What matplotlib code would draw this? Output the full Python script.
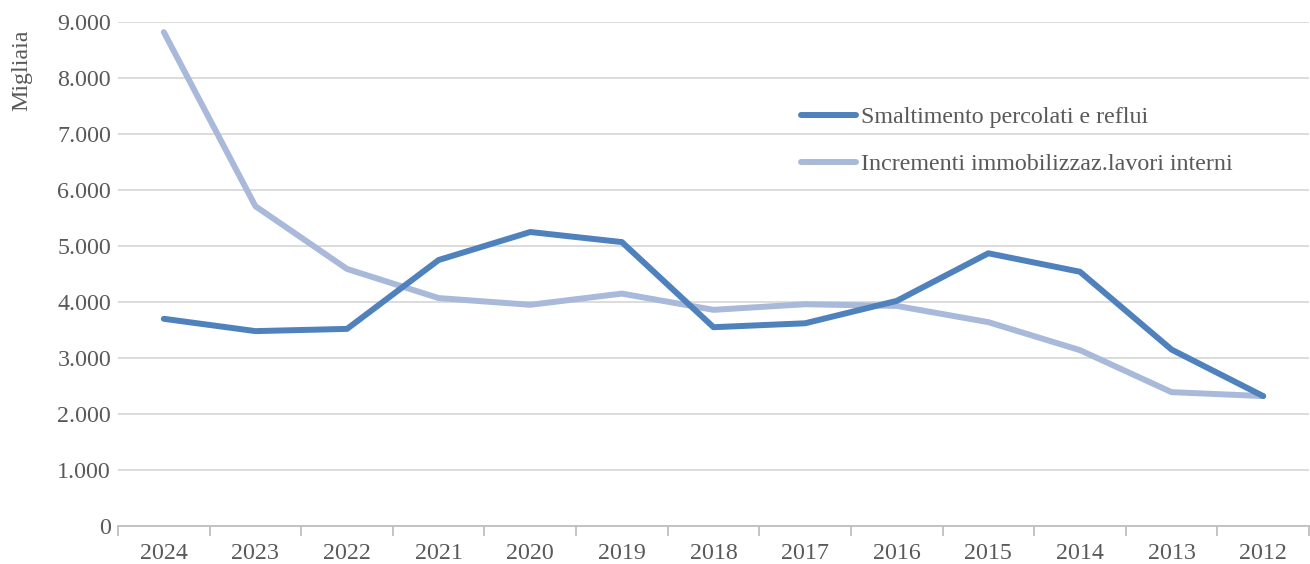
import matplotlib
matplotlib.use("Agg")
import matplotlib.pyplot as plt
from matplotlib.ticker import FuncFormatter, FixedLocator

years = ["2024", "2023", "2022", "2021", "2020", "2019", "2018",
         "2017", "2016", "2015", "2014", "2013", "2012"]
smaltimento = [3700, 3480, 3520, 4750, 5250, 5070, 3550,
               3620, 4020, 4870, 4540, 3150, 2320]
incrementi = [8820, 5710, 4590, 4070, 3950, 4150, 3860,
              3960, 3930, 3640, 3140, 2390, 2320]

plt.rcParams['font.family'] = ['Liberation Serif', 'DejaVu Serif']
text_col = '#595959'
fs = 17.3

fig = plt.figure(figsize=(13.1, 5.64), dpi=100)
ax = fig.add_axes([118 / 1310, 1 - 526 / 564, 1191 / 1310, 504 / 564])

x = list(range(len(years)))
ax.plot(x, smaltimento, color='#4F81BD', lw=4.3, solid_capstyle='round',
        solid_joinstyle='round', label='Smaltimento percolati e reflui', zorder=3)
ax.plot(x, incrementi, color='#A9B9D9', lw=4.3, solid_capstyle='round',
        solid_joinstyle='round', label='Incrementi immobilizzaz.lavori interni', zorder=2)

ax.set_xlim(-0.5, len(years) - 0.5)
ax.set_ylim(0, 9000)
ax.set_yticks(range(0, 9001, 1000))
ax.yaxis.set_major_formatter(FuncFormatter(lambda v, p: f"{int(v):,}".replace(",", ".")))
ax.set_xticks(x)
ax.set_xticklabels(years)
ax.xaxis.set_minor_locator(FixedLocator([i - 0.5 for i in range(len(years) + 1)]))

ax.grid(axis='y', color='#d9d9d9', lw=1.3)
ax.set_axisbelow(True)
for s in ['top', 'right', 'left']:
    ax.spines[s].set_visible(False)
ax.spines['bottom'].set_color('#bfbfbf')
ax.spines['bottom'].set_linewidth(1.3)

ax.tick_params(axis='y', length=0, pad=5, labelsize=fs, labelcolor=text_col)
ax.tick_params(axis='x', which='major', length=0, pad=12, labelsize=fs, labelcolor=text_col)
ax.tick_params(axis='x', which='minor', length=7, width=1.3, color='#bfbfbf')

ax.set_ylabel('Migliaia', fontsize=fs, color=text_col, va='center')
ax.yaxis.set_label_coords(-0.0806, 0.905)

ax.legend(loc='upper left', bbox_to_anchor=(673 / 1191, 1 - 75 / 504), frameon=False,
          fontsize=fs, handlelength=2.3, handletextpad=0.2, labelspacing=1.05,
          labelcolor=text_col, borderaxespad=0)

fig.savefig('out.png', dpi=100)
